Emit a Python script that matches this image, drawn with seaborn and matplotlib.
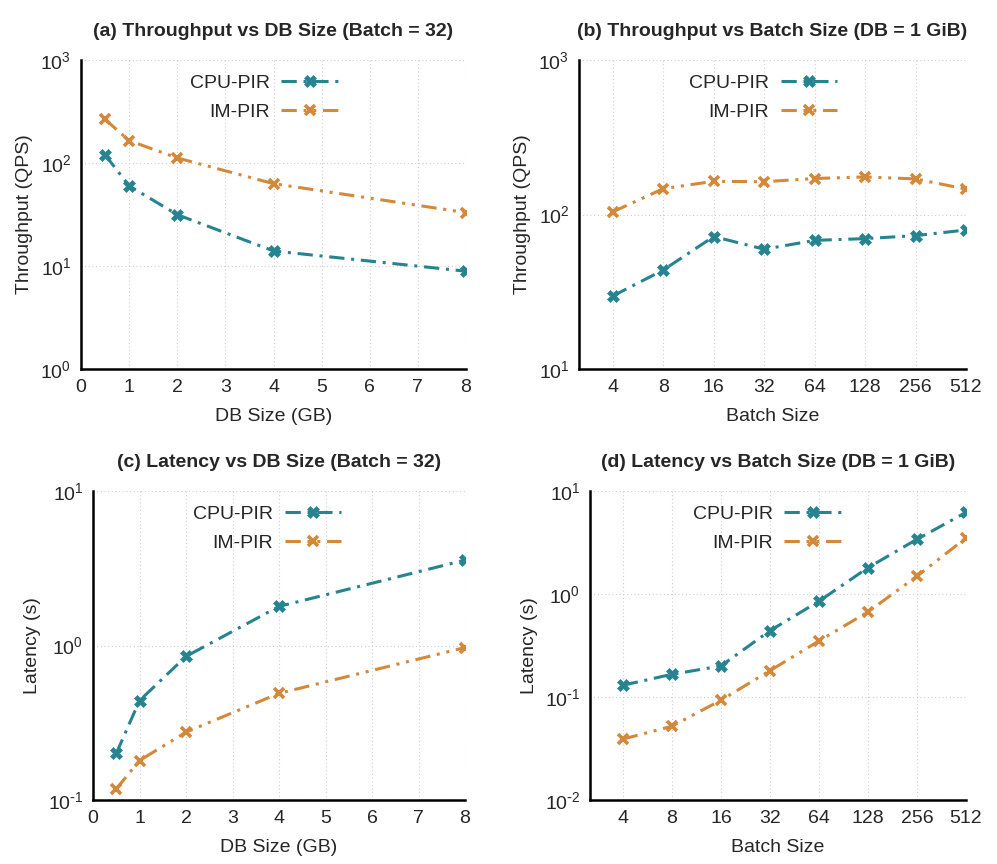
import numpy as np
import pandas as pd
import matplotlib
matplotlib.use("Agg")
import matplotlib.pyplot as plt
import seaborn as sns
from matplotlib.ticker import LogLocator, FixedLocator, NullFormatter, FuncFormatter

# Datos
db_sizes = [0.5, 1, 2, 4, 8]
batch_sizes = [4, 8, 16, 32, 64, 128, 256, 512]

thr_db_cpu = [120, 60, 31.5, 14, 8.9]
thr_db_im = [265, 165, 112, 63, 33]
thr_batch_cpu = [29.7, 43.7, 72, 59.6, 68, 69.8, 73, 79.4]
thr_batch_im = [104, 147, 164, 163, 171, 175, 170, 146]

lat_db_cpu = [0.20, 0.44, 0.85, 1.79, 3.57]
lat_db_im = [0.118, 0.18, 0.275, 0.49, 0.97]
lat_batch_cpu = [0.13, 0.166, 0.20, 0.44, 0.85, 1.8, 3.4, 6.2]
lat_batch_im = [0.039, 0.052, 0.093, 0.18, 0.35, 0.67, 1.49, 3.5]

CPU_COLOR = "#268491"
IM_COLOR = "#d4883a"
FS = 14

sns.set_style("white")
plt.rcParams['font.family'] = ['Liberation Sans', 'DejaVu Sans']
plt.rcParams['mathtext.default'] = 'regular'
plt.rcParams['axes.unicode_minus'] = False


def dec_fmt(v, pos):
    e = int(round(np.log10(v)))
    if e < 0:
        return r"$10^{\text{-}%d}$" % abs(e)
    return r"$10^{%d}$" % e


def style_axes(ax, ylim, ylabel, xlabel, title):
    ax.set_yscale('log')
    ax.set_ylim(*ylim)
    ax.yaxis.set_major_locator(LogLocator(base=10, numticks=10))
    ax.yaxis.set_major_formatter(FuncFormatter(dec_fmt))
    ax.yaxis.set_minor_locator(LogLocator(base=10, subs=np.arange(2, 10), numticks=20))
    ax.yaxis.set_minor_formatter(NullFormatter())
    for s in ['top', 'right']:
        ax.spines[s].set_visible(False)
    for s in ['left', 'bottom']:
        ax.spines[s].set_linewidth(1.8)
        ax.spines[s].set_color('black')
    ax.tick_params(which='major', direction='in', length=6, width=1.3, labelsize=FS, pad=7)
    ax.tick_params(which='minor', direction='in', length=3.5, width=1.0)
    ax.tick_params(axis='x', which='minor', bottom=False)
    ax.grid(True, which='major', linestyle=(0, (0.8, 2.5)), color='#c4c4c4', linewidth=0.8)
    ax.set_ylabel(ylabel, fontsize=FS, labelpad=5)
    ax.set_xlabel(xlabel, fontsize=FS, labelpad=9)
    ax.set_title(title, fontsize=FS, fontweight='bold', pad=17)


def draw_series(ax, x, cpu, im):
    df = pd.DataFrame({'x': list(x) * 2, 'y': list(cpu) + list(im),
                       'sys': ['CPU-PIR'] * len(x) + ['IM-PIR'] * len(x)})
    sns.lineplot(data=df[df.sys == 'CPU-PIR'], x='x', y='y', ax=ax, color=CPU_COLOR,
                 linewidth=2.2, linestyle=(0, (5, 2.2, 1, 2.2)), marker='X',
                 markersize=8, markeredgewidth=0.5, markeredgecolor=CPU_COLOR,
                 markerfacecolor=CPU_COLOR, label='CPU-PIR')
    sns.lineplot(data=df[df.sys == 'IM-PIR'], x='x', y='y', ax=ax, color=IM_COLOR,
                 linewidth=2.2, linestyle=(0, (5, 2.2, 1, 2.2, 1, 2.2)), marker='x',
                 markersize=7.5, markeredgewidth=2.6, markeredgecolor=IM_COLOR,
                 label='IM-PIR')
    leg = ax.legend(loc='upper right', bbox_to_anchor=(0.667, 0.955), frameon=False,
                    markerfirst=False, fontsize=FS, handlelength=2.9, borderpad=0,
                    borderaxespad=0, labelspacing=0.6, handletextpad=0.6)
    return leg


W, H = 997, 864
fig = plt.figure(figsize=(W / 100, H / 100), dpi=100)


def box(l, r, t, b):
    return [l / W, (H - b) / H, (r - l) / W, (b - t) / H]


ax_a = fig.add_axes(box(81, 466, 60, 369))
ax_b = fig.add_axes(box(579, 966, 60, 369))
ax_c = fig.add_axes(box(93, 465, 491, 800))
ax_d = fig.add_axes(box(590, 966, 491, 800))

# (a)
draw_series(ax_a, db_sizes, thr_db_cpu, thr_db_im)
style_axes(ax_a, (1, 1000), 'Throughput (QPS)', 'DB Size (GB)',
           '(a) Throughput vs DB Size (Batch = 32)')
ax_a.set_xlim(0, 8)
ax_a.set_xticks(range(0, 9))

# (b)
draw_series(ax_b, batch_sizes, thr_batch_cpu, thr_batch_im)
style_axes(ax_b, (10, 1000), 'Throughput (QPS)', 'Batch Size',
           '(b) Throughput vs Batch Size (DB = 1 GiB)')

# (c)
draw_series(ax_c, db_sizes, lat_db_cpu, lat_db_im)
style_axes(ax_c, (0.1, 10), 'Latency (s)', 'DB Size (GB)',
           '(c) Latency vs DB Size (Batch = 32)')
ax_c.set_xlim(0, 8)
ax_c.set_xticks(range(0, 9))

# (d)
draw_series(ax_d, batch_sizes, lat_batch_cpu, lat_batch_im)
style_axes(ax_d, (0.01, 10), 'Latency (s)', 'Batch Size',
           '(d) Latency vs Batch Size (DB = 1 GiB)')

for ax in (ax_b, ax_d):
    ax.set_xscale('log', base=2)
    ax.set_xlim(4 / 2 ** 0.67, 512)
    ax.xaxis.set_major_locator(FixedLocator(batch_sizes))
    ax.xaxis.set_major_formatter(FuncFormatter(lambda v, p: str(int(round(v)))))
    ax.xaxis.set_minor_formatter(NullFormatter())
    ax.tick_params(axis='x', which='minor', bottom=False)

fig.savefig('out.png', dpi=100)
